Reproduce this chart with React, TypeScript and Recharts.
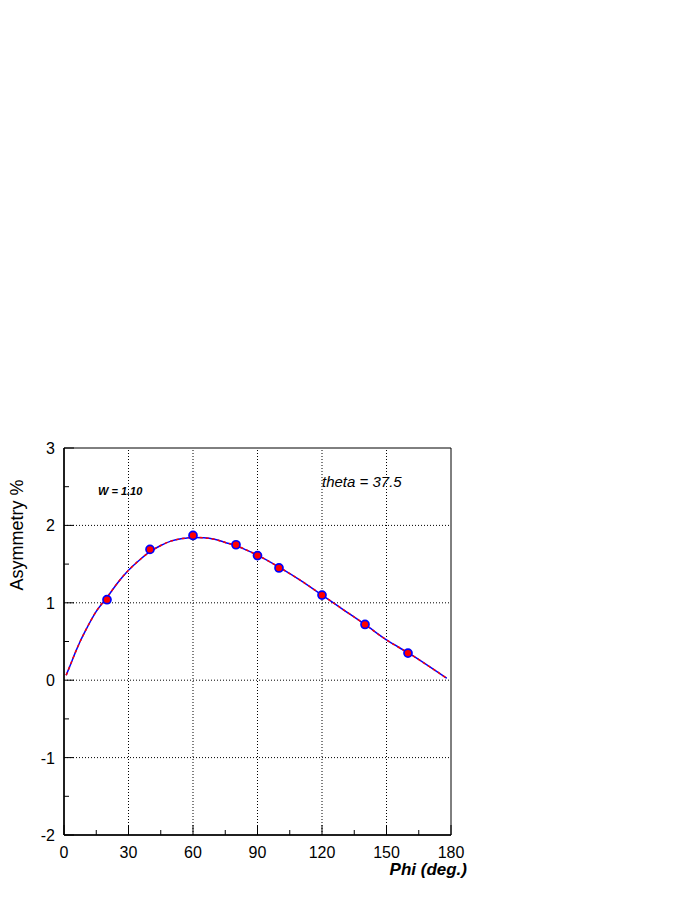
import React from "react";
import {
  ComposedChart,
  Line,
  Scatter,
  XAxis,
  YAxis,
  ReferenceLine,
  ReferenceArea,
} from "recharts";

// fitted curve
const curvePhi = [1, 3, 5, 7.5, 10, 15, 20, 25, 30, 35, 40, 45, 50, 55, 60, 65, 70, 75, 80, 85, 90, 100, 110, 120, 130, 140, 150, 160, 170, 178];
const curveAsym = [0.065, 0.2, 0.34, 0.5, 0.64, 0.89, 1.07, 1.26, 1.42, 1.55, 1.66, 1.74, 1.8, 1.83, 1.845, 1.84, 1.82, 1.78, 1.74, 1.68, 1.615, 1.46, 1.29, 1.1, 0.91, 0.72, 0.52, 0.355, 0.175, 0.025];

// measured points
const pointPhi = [20, 40, 60, 80, 90, 100, 120, 140, 160];
const pointAsym = [1.04, 1.69, 1.87, 1.75, 1.61, 1.45, 1.1, 0.72, 0.35];

const xTicks = [0, 15, 30, 45, 60, 75, 90, 105, 120, 135, 150, 165, 180];
const xGrid = [30, 60, 90, 120, 150];
const yTicks = [-2, -1.5, -1, -0.5, 0, 0.5, 1, 1.5, 2, 2.5, 3];
const yGrid = [-1, 0, 1, 2];

const curveData = curvePhi.map((x, i) => ({ x, y: curveAsym[i] }));
const pointData = pointPhi.map((x, i) => ({ x, y: pointAsym[i] }));

const FONT = '"Liberation Sans", Arial, Helvetica, sans-serif';

function XTick(props: any) {
  const { x, y, payload } = props;
  const v = payload.value;
  const major = v % 30 === 0;
  return (
    <g>
      <line x1={x} y1={y} x2={x} y2={y - (major ? 10 : 5)} stroke="#000" strokeWidth={1} />
      {major && (
        <text x={x} y={y + 23} textAnchor="middle" fontSize={16} fontFamily={FONT} fill="#000">
          {v}
        </text>
      )}
    </g>
  );
}

function YTick(props: any) {
  const { x, y, payload } = props;
  const v = payload.value;
  const major = Number.isInteger(v);
  return (
    <g>
      <line x1={x} y1={y} x2={x + (major ? 10 : 5)} y2={y} stroke="#000" strokeWidth={1} />
      {major && (
        <text x={x - 9} y={y + 6} textAnchor="end" fontSize={16} fontFamily={FONT} fill="#000">
          {v}
        </text>
      )}
    </g>
  );
}

function Marker(props: any) {
  const { cx, cy } = props;
  return <circle cx={cx} cy={cy} r={4} fill="#ff0000" stroke="#0000ff" strokeWidth={1.7} />;
}

export default function App() {
  return (
    <div style={{ position: "absolute", left: 0, top: 0, width: 695, height: 900, background: "#fff" }}>
      <ComposedChart
        width={695}
        height={900}
        margin={{ top: 448, right: 244, bottom: 0, left: 0 }}
      >
        <XAxis
          type="number"
          dataKey="x"
          domain={[0, 180]}
          ticks={xTicks}
          interval={0}
          height={65}
          tickSize={0}
          tickMargin={0}
          tickLine={false}
          tick={<XTick />}
          axisLine={{ stroke: "#000", strokeWidth: 1.5 }}
          allowDataOverflow
        />
        <YAxis
          type="number"
          dataKey="y"
          domain={[-2, 3]}
          ticks={yTicks}
          interval={0}
          width={64}
          tickSize={0}
          tickMargin={0}
          tickLine={false}
          tick={<YTick />}
          axisLine={{ stroke: "#000", strokeWidth: 1.5 }}
          allowDataOverflow
        />
        {xGrid.map((v) => (
          <ReferenceLine key={"gx" + v} x={v} stroke="#000" strokeWidth={1} strokeDasharray="1 2" />
        ))}
        {yGrid.map((v) => (
          <ReferenceLine key={"gy" + v} y={v} stroke="#000" strokeWidth={1} strokeDasharray="1 2" />
        ))}
        <ReferenceArea x1={0} x2={180} y1={-2} y2={3} fill="none" stroke="#000" strokeWidth={1} fillOpacity={0} />
        <Line
          data={curveData}
          dataKey="y"
          type="monotone"
          stroke="#0000ff"
          strokeWidth={1.5}
          dot={false}
          isAnimationActive={false}
        />
        <Line
          data={curveData}
          dataKey="y"
          type="monotone"
          stroke="#ff0000"
          strokeWidth={1.5}
          strokeDasharray="3 3"
          dot={false}
          isAnimationActive={false}
        />
        <Scatter data={pointData} dataKey="y" shape={<Marker />} isAnimationActive={false} />
      </ComposedChart>
      <svg
        width={695}
        height={900}
        style={{ position: "absolute", left: 0, top: 0, pointerEvents: "none" }}
      >
        <text
          transform="translate(23,535) rotate(-90)"
          textAnchor="middle"
          fontSize={18}
          fontFamily={FONT}
          fill="#000"
        >
          Asymmetry %
        </text>
        <text x={467} y={875} textAnchor="end" fontSize={17} fontWeight="bold" fontStyle="italic" fontFamily={FONT} fill="#000">
          Phi (deg.)
        </text>
        <text x={322} y={487} fontSize={15} fontStyle="italic" fontFamily={FONT} fill="#000">
          theta = 37.5
        </text>
        <text x={98} y={495} fontSize={11} fontWeight="bold" fontStyle="italic" fontFamily={FONT} fill="#000">
          W = 1.10
        </text>
      </svg>
    </div>
  );
}
